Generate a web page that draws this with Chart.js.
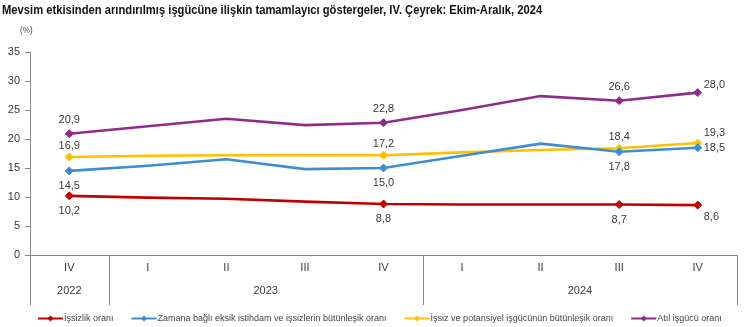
<!DOCTYPE html>
<html lang="tr">
<head>
<meta charset="utf-8">
<title>Tamamlayıcı göstergeler</title>
<script src="https://cdn.jsdelivr.net/npm/chart.js@4/dist/chart.umd.min.js"></script>
<style>
    html, body { margin: 0; padding: 0; background: #fff; }
    #wrap { position: relative; width: 750px; height: 327px; overflow: hidden; }
    #title {
        position: absolute; left: 2px; top: 2px;
        font: bold 13.5px "Liberation Sans", Arial, sans-serif;
        color: #111; white-space: nowrap;
        transform: scaleX(0.83); transform-origin: 0 0;
    }
    #unit {
        position: absolute; left: 20px; top: 25px;
        font: 9px "Liberation Sans", Arial, sans-serif;
        color: #444;
        transform: scaleX(0.9); transform-origin: 0 0;
    }
    canvas { position: absolute; left: 0; top: 0; }
</style>
</head>
<body>
<div id="wrap">
    <canvas id="chart" width="750" height="327"></canvas>
    <div id="title">Mevsim etkisinden arındırılmış işgücüne ilişkin tamamlayıcı göstergeler, IV. Çeyrek: Ekim-Aralık, 2024</div>
    <div id="unit">(%)</div>
</div>
<script>
const QUARTERS = ["IV", "I", "II", "III", "IV", "I", "II", "III", "IV"];
const YEARS = ["2022", "2023", "2024"];
const YEAR_QUARTER_COUNTS = [1, 4, 4];

const ISSIZLIK = [10.2, 9.9, 9.7, 9.2, 8.8, 8.7, 8.7, 8.7, 8.6];
const ZAMANA_BAGLI = [14.5, 15.4, 16.5, 14.8, 15.0, 17.1, 19.2, 17.8, 18.5];
const POTANSIYEL = [16.9, 17.1, 17.2, 17.2, 17.2, 17.7, 18.1, 18.4, 19.3];
const ATIL = [20.9, 22.2, 23.5, 22.4, 22.8, 25.0, 27.4, 26.6, 28.0];

// quarters that get a marker and a value label
const LABELED = [0, 4, 7, 8];

const Y_TICKS = [0, 5, 10, 15, 20, 25, 30, 35];

const RED = "#c00000";
const BLUE = "#3d8dd0";
const YELLOW = "#ffc000";
const PURPLE = "#8e2b8c";
const AXIS_COLOR = "#868686";
const TEXT_COLOR = "#3a3a3a";
const FONT = "'Liberation Sans', Arial, sans-serif";

function markerRadii() {
    return QUARTERS.map((q, i) => (LABELED.includes(i) ? 4 : 0));
}

function makeDataset(label, values, color, labelDy, lastDy) {
    return {
        label: label,
        data: values,
        borderColor: color,
        backgroundColor: color,
        borderWidth: 2.6,
        tension: 0,
        pointStyle: "rectRot",
        pointRadius: markerRadii(),
        pointHoverRadius: markerRadii(),
        pointBorderWidth: 1,
        labelDy: labelDy,
        lastDy: lastDy,
    };
}

function fmt(v) {
    return v.toFixed(1).replace(".", ",");
}

// value labels next to the marked points
const valueLabels = {
    id: "valueLabels",
    afterDatasetsDraw(chart) {
        const ctx = chart.ctx;
        ctx.save();
        ctx.font = "11px " + FONT;
        ctx.fillStyle = TEXT_COLOR;
        ctx.textBaseline = "middle";
        chart.data.datasets.forEach((ds, di) => {
            const meta = chart.getDatasetMeta(di);
            LABELED.forEach((i) => {
                const pt = meta.data[i];
                const text = fmt(ds.data[i]);
                if (i === QUARTERS.length - 1) {
                    ctx.textAlign = "left";
                    ctx.fillText(text, pt.x + 6, pt.y + ds.lastDy);
                } else {
                    ctx.textAlign = "center";
                    ctx.fillText(text, pt.x, pt.y + ds.labelDy);
                }
            });
        });
        ctx.restore();
    },
};

// year row, group separators and the legend under the axis
const axisExtras = {
    id: "axisExtras",
    afterDraw(chart) {
        const ctx = chart.ctx;
        const x = chart.scales.x;
        const area = chart.chartArea;
        const half = (x.getPixelForValue(1) - x.getPixelForValue(0)) / 2;
        ctx.save();
        ctx.strokeStyle = AXIS_COLOR;
        ctx.lineWidth = 1;
        ctx.fillStyle = TEXT_COLOR;
        ctx.font = "11px " + FONT;
        ctx.textAlign = "center";
        ctx.textBaseline = "middle";

        let start = 0;
        const edges = [area.left];
        YEARS.forEach((year, k) => {
            const end = start + YEAR_QUARTER_COUNTS[k] - 1;
            const cx = (x.getPixelForValue(start) + x.getPixelForValue(end)) / 2;
            ctx.fillText(year, cx, area.bottom + 36);
            edges.push(x.getPixelForValue(end) + half);
            start = end + 1;
        });
        edges.forEach((ex) => {
            const px = Math.round(ex) + 0.5;
            ctx.beginPath();
            ctx.moveTo(px, area.bottom);
            ctx.lineTo(px, area.bottom + 50);
            ctx.stroke();
        });

        // legend
        ctx.font = "9px " + FONT;
        ctx.textAlign = "left";
        const ly = 318.5;
        let lx = 38;
        chart.data.datasets.forEach((ds) => {
            ctx.strokeStyle = ds.borderColor;
            ctx.fillStyle = ds.borderColor;
            ctx.lineWidth = 2;
            ctx.beginPath();
            ctx.moveTo(lx, ly);
            ctx.lineTo(lx + 25, ly);
            ctx.stroke();
            ctx.beginPath();
            ctx.moveTo(lx + 12.5, ly - 3);
            ctx.lineTo(lx + 15.5, ly);
            ctx.lineTo(lx + 12.5, ly + 3);
            ctx.lineTo(lx + 9.5, ly);
            ctx.closePath();
            ctx.fill();
            ctx.fillStyle = "#444";
            ctx.fillText(ds.label, lx + 26, ly);
            lx += 26 + ctx.measureText(ds.label).width + 18;
        });
        ctx.restore();
    },
};

const config = {
    type: "line",
    data: {
        labels: QUARTERS,
        datasets: [
            makeDataset("İşsizlik oranı", ISSIZLIK, RED, 15, 12),
            makeDataset("Zamana bağlı eksik istihdam ve işsizlerin bütünleşik oranı", ZAMANA_BAGLI, BLUE, 15, 0),
            makeDataset("İşsiz ve potansiyel işgücünün bütünleşik oranı", POTANSIYEL, YELLOW, -11, -10),
            makeDataset("Atıl işgücü oranı", ATIL, PURPLE, -14, -8),
        ],
    },
    options: {
        responsive: false,
        animation: false,
        devicePixelRatio: 1,
        events: [],
        layout: { padding: { top: 52, right: 13, bottom: 0, left: 0 } },
        plugins: {
            legend: { display: false },
            tooltip: { enabled: false },
        },
        scales: {
            x: {
                offset: true,
                grid: { display: false, drawTicks: false },
                border: { display: true, color: AXIS_COLOR, width: 1 },
                ticks: {
                    color: TEXT_COLOR,
                    font: { family: FONT, size: 11 },
                    padding: 6,
                    maxRotation: 0,
                    autoSkip: false,
                },
                afterFit: (scale) => { scale.height = 72; },
            },
            y: {
                min: 0,
                max: 35,
                afterBuildTicks: (scale) => {
                    scale.ticks = Y_TICKS.map((v) => ({ value: v }));
                },
                grid: {
                    drawOnChartArea: false,
                    color: AXIS_COLOR,
                    tickLength: 5,
                },
                border: { display: true, color: AXIS_COLOR, width: 1 },
                ticks: {
                    color: TEXT_COLOR,
                    font: { family: FONT, size: 11 },
                    padding: 5,
                },
                afterFit: (scale) => { scale.width = 30; },
            },
        },
    },
    plugins: [valueLabels, axisExtras],
};

new Chart(document.getElementById("chart").getContext("2d"), config);
</script>
</body>
</html>
